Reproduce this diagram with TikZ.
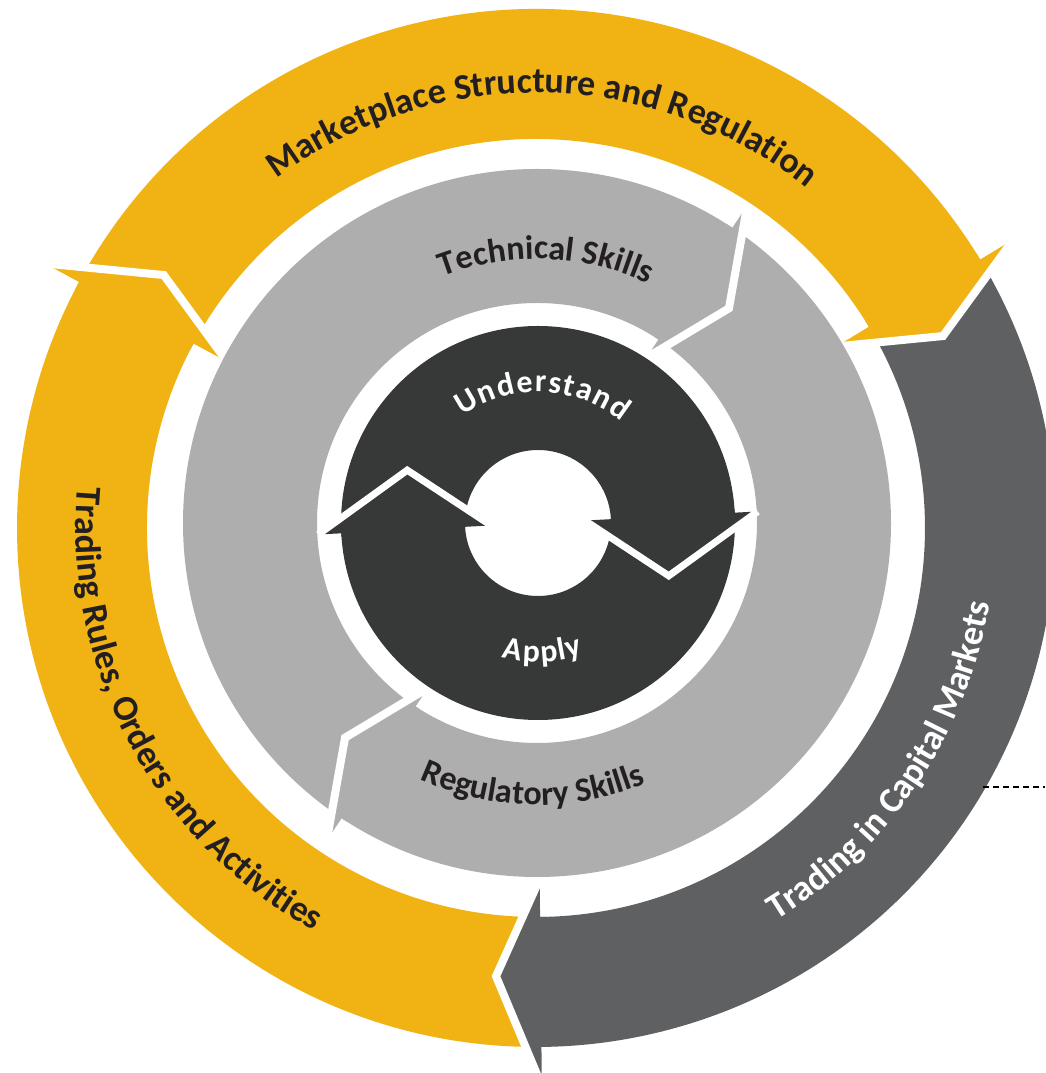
\documentclass[tikz,border=0pt]{standalone}
\usepackage{fontspec}
\setmainfont{Carlito}
\usetikzlibrary{decorations.text}
\definecolor{ylw}{RGB}{240,179,19}
\definecolor{dgray}{RGB}{95,96,98}
\definecolor{mgray}{RGB}{173,174,173}
\definecolor{coredark}{RGB}{55,57,57}
\definecolor{txtdark}{RGB}{35,31,32}
\newcommand\fOuter{\fontsize{36}{40}\selectfont\bfseries\color{txtdark}}
\newcommand\fOuterW{\fontsize{36}{40}\selectfont\bfseries\color{white}}
\newcommand\fMid{\fontsize{34}{38}\selectfont\bfseries\color{txtdark}}
% arrow head: #1 colour, #2 base angle, #3 tip offset, #4 ring inner r, #5 ring outer r, #6 inner barb r, #7 outer barb r, #8 tip r
\newcommand\ahead[8]{%
  \fill[#1] ({#2+1}:#4pt) -- ({#2+1}:#5pt) -- ({#2}:#5pt) -- ({#2}:#7pt) -- ({#2-#3}:#8pt) -- ({#2}:#6pt) -- ({#2}:#4pt) -- cycle;}
% white gap along a head: #1 width, #2 base angle, #3 tip offset, #4 inner barb r, #5 outer barb r, #6 tip r
\newcommand\wline[6]{%
  \draw[white, line width=#1pt, line join=miter, miter limit=10] ({#2}:#5pt) -- ({#2-#3}:#6pt) -- ({#2}:#4pt);}
\tikzset{
  coreletter/.style={text=white, font=\fontsize{32}{36}\selectfont\bfseries, anchor=base, inner sep=0pt},
  curvetext/.style={decorate, decoration={text along path, text align=center, text={#1}}},
  gapline/.style={black, line width=2.2pt, dash pattern=on 6pt off 4pt},
}
\begin{document}
\begin{tikzpicture}[x=1pt,y=1pt]
\useasboundingbox (0,0) rectangle (1045,1073);
\fill[white] (0,0) rectangle (1045,1073);

% ---------- outer ring ----------
\begin{scope}[shift={(536,545)}]
  \fill[ylw] (151.7:519pt) arc[start angle=151.7, end angle=31.15, radius=519pt]
     -- (31.15:389pt) arc[start angle=31.15, end angle=151.7, radius=389pt] -- cycle;
  \fill[dgray] (31.15:519pt) arc[start angle=31.15, end angle=-89.4, radius=519pt]
     -- (-89.4:389pt) arc[start angle=-89.4, end angle=31.15, radius=389pt] -- cycle;
  \fill[ylw] (270.6:519pt) arc[start angle=270.6, end angle=151.7, radius=519pt]
     -- (151.7:389pt) arc[start angle=151.7, end angle=270.6, radius=389pt] -- cycle;
  \ahead{ylw}{31.15}{5.9}{389}{519}{351}{558}{450}
  \ahead{dgray}{-89.4}{5.7}{389}{519}{351}{558}{450}
  \ahead{ylw}{151.7}{5.9}{389}{519}{351}{558}{450}
  \wline{8}{31.15}{5.9}{351}{558}{450}
  \wline{8}{-89.4}{5.7}{351}{558}{450}
  \wline{8}{151.7}{5.9}{351}{558}{450}
  \path[curvetext={|\fOuter|Marketplace Structure and Regulation}]
     (149:435pt) arc[start angle=149, end angle=29, radius=435pt];
  \path[curvetext={|\fOuter|Trading Rules, Orders and Activities}]
     (150:460pt) arc[start angle=150, end angle=266, radius=460pt];
  \path[curvetext={|\fOuterW|Trading in Capital Markets}]
     (-79:460pt) arc[start angle=-79, end angle=11, radius=460pt];
\end{scope}

% ---------- middle ring ----------
\begin{scope}[shift={(537,550)}]
  \fill[mgray, even odd rule] (0,0) circle[radius=354pt] (0,0) circle[radius=220pt];
  \ahead{mgray}{56.5}{8.3}{220}{354}{198}{381}{288}
  \ahead{mgray}{236.5}{8.3}{220}{354}{198}{381}{288}
  \wline{8}{56.5}{8.3}{198}{381}{288}
  \wline{8}{236.5}{8.3}{198}{381}{288}
  \path[curvetext={|\fMid|Technical Skills}]
     (133:264pt) arc[start angle=133, end angle=43, radius=264pt];
  \path[curvetext={|\fMid|Regulatory Skills}]
     (224:282pt) arc[start angle=224, end angle=314, radius=282pt];
\end{scope}

% ---------- inner ring ----------
\begin{scope}[shift={(538,550)}]
  \fill[coredark, even odd rule] (0,0) circle[radius=197pt] (0,0) circle[radius=73pt];
  \ahead{coredark}{3}{25}{73}{197}{47}{220}{141}
  \ahead{coredark}{183}{25}{73}{197}{47}{220}{141}
  \wline{7}{3}{25}{47}{220}{141}
  \wline{7}{183}{25}{47}{220}{141}
  \node[coreletter, rotate=30.67]  (u1)  at (120.67:131pt) {U};
  \node[coreletter, rotate=21.68]  (u2)  at (111.68:131pt) {n};
  \node[coreletter, rotate=13.51]  (u3)  at (103.51:131pt) {d};
  \node[coreletter, rotate=5.58]   (u4)  at (95.58:131pt)  {e};
  \node[coreletter, rotate=-1.09]  (u5)  at (88.91:131pt)  {r};
  \node[coreletter, rotate=-7.02]  (u6)  at (82.98:131pt)  {s};
  \node[coreletter, rotate=-12.9]  (u7)  at (77.10:131pt)  {t};
  \node[coreletter, rotate=-19.44] (u8)  at (70.56:131pt)  {a};
  \node[coreletter, rotate=-27.31] (u9)  at (62.69:131pt)  {n};
  \node[coreletter, rotate=-35.48] (u10) at (54.52:131pt)  {d};
  \node[coreletter, rotate=-11.07] (a1) at (258.93:139pt) {A};
  \node[coreletter, rotate=-2.91]  (a2) at (267.09:139pt) {p};
  \node[coreletter, rotate=4.79]   (a3) at (274.79:139pt) {p};
  \node[coreletter, rotate=10.57]  (a4) at (280.57:139pt) {l};
  \node[coreletter, rotate=15.94]  (a5) at (285.94:139pt) {y};
\end{scope}

% ---------- dashed leader ----------
\coordinate (dashA) at (983,286);
\coordinate (dashB) at (1045,286);
\draw[gapline] (dashA) -- (dashB);
\end{tikzpicture}
\end{document}
